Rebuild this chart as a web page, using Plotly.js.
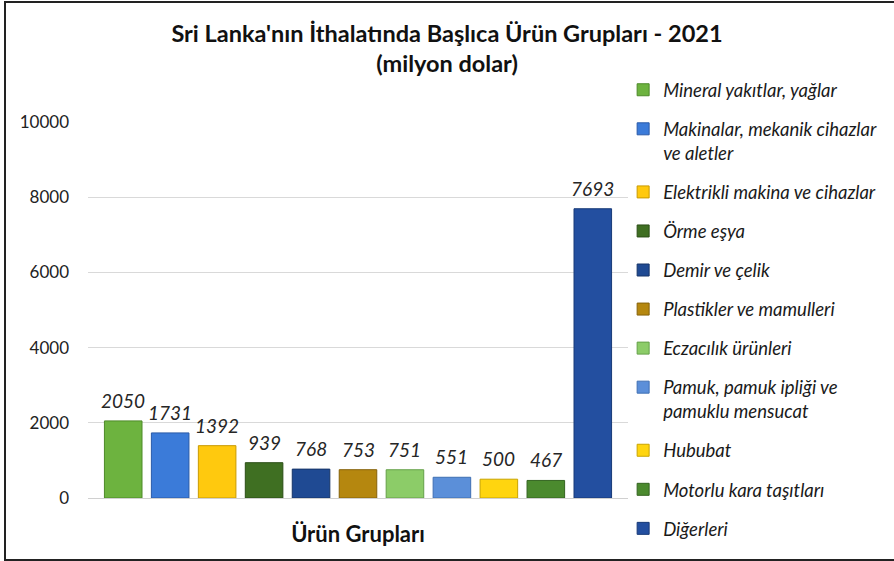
<!DOCTYPE html>
<html>
<head>
<meta charset="utf-8">
<script src="https://cdn.plot.ly/plotly-3.0.1.min.js"></script>
<style>
html,body{margin:0;padding:0;background:#fff;}
#wrap{position:relative;width:894px;height:561px;overflow:hidden;}
#chart{width:894px;height:561px;}
#frame{position:absolute;left:4px;top:1px;width:900px;height:556px;border-left:2px solid #222;border-top:2px solid #222;border-bottom:2px solid #222;pointer-events:none;}
</style>
</head>
<body>
<div id="wrap"><div id="chart"></div><div id="frame"></div></div>
<script>
const categories = [
  "Mineral yakıtlar, yağlar",
  "Makinalar, mekanik cihazlar<br>ve aletler",
  "Elektrikli makina ve cihazlar",
  "Örme eşya",
  "Demir ve çelik",
  "Plastikler ve mamulleri",
  "Eczacılık ürünleri",
  "Pamuk, pamuk ipliği ve<br>pamuklu mensucat",
  "Hububat",
  "Motorlu kara taşıtları",
  "Diğerleri"
];
const values = [2050, 1731, 1392, 939, 768, 753, 751, 551, 500, 467, 7693];
const colors = ["#6db33f", "#3b7bd9", "#ffc90e", "#3f6f22", "#1f4a93", "#b5870f",
                "#8ccc68", "#5b8fd9", "#ffd50f", "#4b8a2e", "#234fa0"];
const lineColors = ["#4d8a28", "#2a5aa8", "#c99a00", "#2b4e16", "#163568", "#86620a",
                    "#64a048", "#3f6fb3", "#c9a400", "#346420", "#183a78"];
const yTicks = [0, 2000, 4000, 6000, 8000, 10000];

const FONT = "Lato, 'Open Sans', sans-serif";

const traces = categories.map((c, i) => ({
  type: "bar",
  name: c,
  x: [i],
  y: [values[i]],
  width: 0.8,
  marker: {color: colors[i], line: {color: lineColors[i], width: 1}},
  legendgroup: "g" + i,
  hoverinfo: "name+y"
}));

const labels = values.map((v, i) => ({
  x: i, y: v, xref: "x", yref: "y",
  text: String(v), showarrow: false,
  xanchor: "center", yanchor: "bottom", yshift: 7,
  font: {family: FONT, size: 19, color: "#262626", style: "italic"}
}));

const layout = {
  width: 894, height: 561,
  paper_bgcolor: "#ffffff", plot_bgcolor: "#ffffff",
  margin: {l: 88, r: 262, t: 122, b: 63},
  barmode: "overlay",
  showlegend: true,
  annotations: labels,
  title: {
    text: "<b>Sri Lanka'nın İthalatında Başlıca Ürün Grupları - 2021<br>(milyon dolar)</b>",
    x: 0.5, xanchor: "center", y: 0.926, yanchor: "top",
    font: {family: FONT, size: 23.5, color: "#111"}
  },
  xaxis: {
    range: [-0.75, 10.75],
    showticklabels: false, showgrid: false, zeroline: false, showline: false, ticks: "",
    title: {text: "<b>Ürün Grupları</b>", standoff: 28,
            font: {family: FONT, size: 22, color: "#111"}}
  },
  yaxis: {
    range: [0, 10000],
    tickvals: yTicks,
    ticktext: yTicks.map(String),
    showgrid: true, gridcolor: "#d9d9d9", gridwidth: 1,
    zeroline: true, zerolinecolor: "#d0d0d0", zerolinewidth: 1,
    showline: false, ticks: "", ticklabelstandoff: 18,
    tickfont: {family: FONT, size: 17, color: "#222"}
  },
  legend: {
    x: 0.991, xanchor: "left", y: 1.135, yanchor: "top",
    valign: "top",
    tracegroupgap: 12,
    itemwidth: 30,
    maxheight: 700,
    font: {family: FONT, size: 18.5, color: "#1a1a1a", style: "italic"},
    bgcolor: "rgba(0,0,0,0)"
  }
};

Plotly.newPlot("chart", traces, layout, {displayModeBar: false, staticPlot: true});
</script>
</body>
</html>
